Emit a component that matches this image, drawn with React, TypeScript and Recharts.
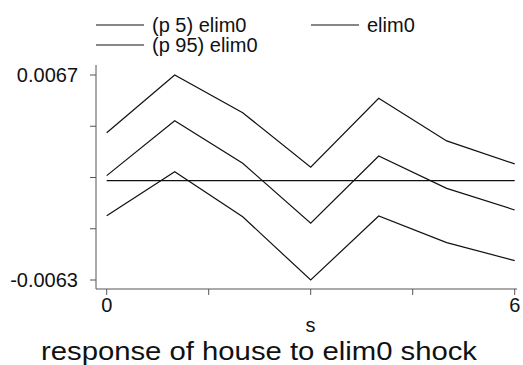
import React from 'react';
import { LineChart, Line, XAxis, YAxis, ReferenceLine, Label } from 'recharts';

// horizon steps
const steps = [0, 1, 2, 3, 4, 5, 6];

// impulse response and its 5/95 percentile bands
const irf = [0.00032, 0.0038, 0.0011, -0.0027, 0.00156, -0.00049, -0.00186];
const p5 = [-0.00222, 0.00057, -0.00229, -0.0063, -0.00224, -0.00393, -0.00507];
const p95 = [0.00304, 0.0067, 0.00431, 0.00085, 0.00522, 0.00252, 0.00106];

const yTicks = [-0.0063, -0.00305, 0.0002, 0.00345, 0.0067];
const xTicks = [0, 1.5, 3, 4.5, 6];
const labeledY = [-0.0063, 0.0067];
const labeledX = [0, 6];

const FONT = '"Liberation Sans", Arial, sans-serif';
const INK = '#111';
const AXIS = '#555';

const data = steps.map((s, i) => ({ s, p5: p5[i], irf: irf[i], p95: p95[i] }));

const legendItems = [
  { name: '(p 5) elim0', x: 96, y: 25 },
  { name: 'elim0', x: 311, y: 25 },
  { name: '(p 95) elim0', x: 96, y: 45 },
];

const StataLegend = () => (
  <svg width={523} height={60} style={{ position: 'absolute', left: 0, top: 0 }}>
    {legendItems.map(it => (
      <g key={it.name}>
        <line x1={it.x} x2={it.x + 48} y1={it.y} y2={it.y} stroke={INK} strokeWidth={1.2} />
        <text x={it.x + 56} y={it.y} dy="0.35em" fontSize={20} fontFamily={FONT} fill={INK}>
          {it.name}
        </text>
      </g>
    ))}
  </svg>
);

// axis title "s" plus the graph title underneath
const BottomLabels = (props: any) => {
  const { viewBox } = props;
  const cx = viewBox.x + viewBox.width / 2 + 4;
  return (
    <g>
      <text x={cx} y={332} textAnchor="middle" fontSize={20} fontFamily={FONT} fill={INK}>s</text>
      <text x={259} y={360} textAnchor="middle" fontSize={26} fontFamily={FONT} fill={INK}
        textLength={436} lengthAdjust="spacingAndGlyphs">
        response of house to elim0 shock
      </text>
    </g>
  );
};

export default function App() {
  return (
    <div style={{ position: 'absolute', left: 0, top: 0, width: 523, height: 365, background: '#fff' }}>
      <LineChart width={523} height={365} data={data} margin={{ top: 65, right: 6, left: 0, bottom: 0 }}>
        <XAxis
          dataKey="s"
          type="number"
          domain={[0, 6]}
          ticks={xTicks}
          interval={0}
          padding={{ left: 10.7, right: 2.3 }}
          height={76}
          tickSize={6}
          tickMargin={3}
          stroke={AXIS}
          tick={{ fill: INK, fontSize: 20, fontFamily: FONT }}
          tickFormatter={(v: number) => (labeledX.includes(v) ? String(v) : '')}
        >
          <Label content={<BottomLabels />} />
        </XAxis>
        <YAxis
          type="number"
          domain={[-0.0063, 0.0067]}
          ticks={yTicks}
          interval={0}
          width={96}
          padding={{ top: 10, bottom: 9 }}
          tickSize={6}
          tickMargin={12}
          stroke={AXIS}
          tick={{ fill: INK, fontSize: 20, fontFamily: FONT }}
          tickFormatter={(v: number) => (labeledY.includes(v) ? v.toFixed(4) : '')}
        />
        <ReferenceLine segment={[{ x: 0, y: 0 }, { x: 6, y: 0 }]} stroke={INK} strokeWidth={1.2} />
        <Line dataKey="p5" name="(p 5) elim0" stroke={INK} strokeWidth={1.2} dot={false} isAnimationActive={false} />
        <Line dataKey="irf" name="elim0" stroke={INK} strokeWidth={1.2} dot={false} isAnimationActive={false} />
        <Line dataKey="p95" name="(p 95) elim0" stroke={INK} strokeWidth={1.2} dot={false} isAnimationActive={false} />
      </LineChart>
      <StataLegend />
    </div>
  );
}
